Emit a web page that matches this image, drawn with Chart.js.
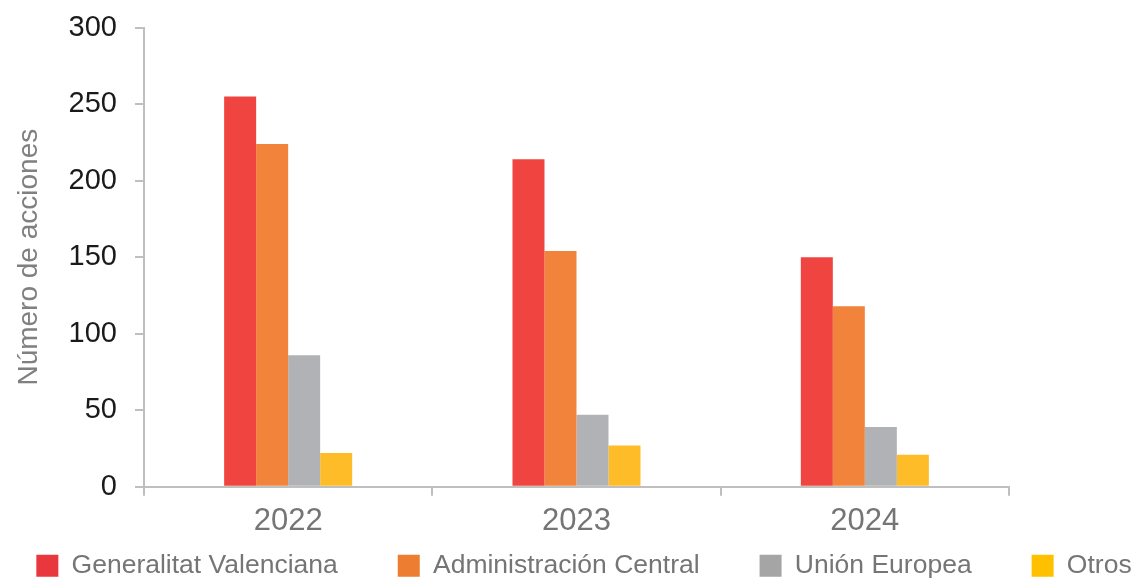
<!DOCTYPE html>
<html>
<head>
<meta charset="utf-8">
<script src="https://cdn.jsdelivr.net/npm/chart.js@4"></script>
<style>
html,body{margin:0;padding:0;background:#fff;}
#wrap{width:1135px;height:581px;position:relative;}
</style>
</head>
<body>
<div id="wrap"><canvas id="c" width="1135" height="581"></canvas></div>
<script>
const categories = ["2022", "2023", "2024"];
const seriesNames = ["Generalitat Valenciana", "Administración Central", "Unión Europea", "Otros"];
const generalitat = [255, 214, 150];
const administracion = [224, 154, 118];
const unionEuropea = [86, 47, 39];
const otros = [22, 27, 21];
const yTicks = [0, 50, 100, 150, 200, 250, 300];

const barColors = ["#f04441", "#f2833b", "#b1b2b5", "#febd28"];
const legendColors = ["#e8383d", "#ed7d31", "#a5a5a5", "#ffc000"];
const values = [generalitat, administracion, unionEuropea, otros];

const FONT = "'Liberation Sans', Arial, sans-serif";
const LEGEND_PAD = 60;
const LEGEND_RESERVED_H = 34;
const LEGEND_ITEM_TOP = 552.5;
const LEGEND_CENTER_X = 584;

const legendPlacement = {
  id: 'legendPlacement',
  beforeLayout(chart) {
    const lg = chart.legend;
    if (lg && !lg._patched) {
      const origFit = lg.fit;
      lg.fit = function () {
        this.maxWidth = 3000;
        origFit.call(this);
        this.width = Math.min(this.width, 1135);
        this.height = LEGEND_RESERVED_H;
      };
      lg._patched = true;
    }
  },
  afterLayout(chart) {
    const lg = chart.legend;
    if (!lg) return;
    lg.left = LEGEND_CENTER_X - 1000;
    lg.right = LEGEND_CENTER_X + 1000;
    lg.width = 2000;
    lg.top = LEGEND_ITEM_TOP - LEGEND_PAD;
    lg.bottom = 581;
    lg.height = lg.bottom - lg.top;
  }
};

new Chart(document.getElementById('c'), {
  type: 'bar',
  data: {
    labels: categories,
    datasets: seriesNames.map((n, i) => ({
      label: n,
      data: values[i],
      backgroundColor: barColors[i],
      borderWidth: 0,
      barPercentage: 1,
      categoryPercentage: 0.444
    }))
  },
  plugins: [legendPlacement],
  options: {
    responsive: false,
    animation: false,
    devicePixelRatio: 1,
    layout: { padding: { left: 12, right: 126, top: 1, bottom: 0 } },
    plugins: {
      tooltip: { enabled: false },
      legend: {
        position: 'bottom',
        labels: {
          font: { family: FONT, size: 26.5 },
          color: '#757575',
          boxWidth: 22,
          boxHeight: 22,
          padding: LEGEND_PAD,
          generateLabels: (chart) => seriesNames.map((n, i) => ({
            text: n,
            fillStyle: legendColors[i],
            strokeStyle: legendColors[i],
            fontColor: '#757575',
            lineWidth: 0,
            datasetIndex: i,
            hidden: false
          }))
        }
      }
    },
    scales: {
      x: {
        grid: { display: true, drawOnChartArea: false, drawTicks: true, tickLength: 9, color: '#bfbfbf', lineWidth: 2, offset: true },
        border: { display: true, color: '#bfbfbf', width: 2 },
        ticks: { font: { family: FONT, size: 31 }, color: '#757575', padding: 7 }
      },
      y: {
        min: 0, max: 300,
        afterBuildTicks: (axis) => { axis.ticks = yTicks.map(v => ({ value: v })); },
        grid: { display: true, drawOnChartArea: false, drawTicks: true, tickLength: 9, color: '#bfbfbf', lineWidth: 2 },
        border: { display: true, color: '#bfbfbf', width: 2 },
        ticks: { font: { family: FONT, size: 29, lineHeight: 0.66 }, color: '#1a1a1a', padding: 18 },
        title: { display: true, text: 'Número de acciones', font: { family: FONT, size: 28 }, color: '#808080', padding: { top: 0, bottom: 5 } }
      }
    }
  }
});
</script>
</body>
</html>
